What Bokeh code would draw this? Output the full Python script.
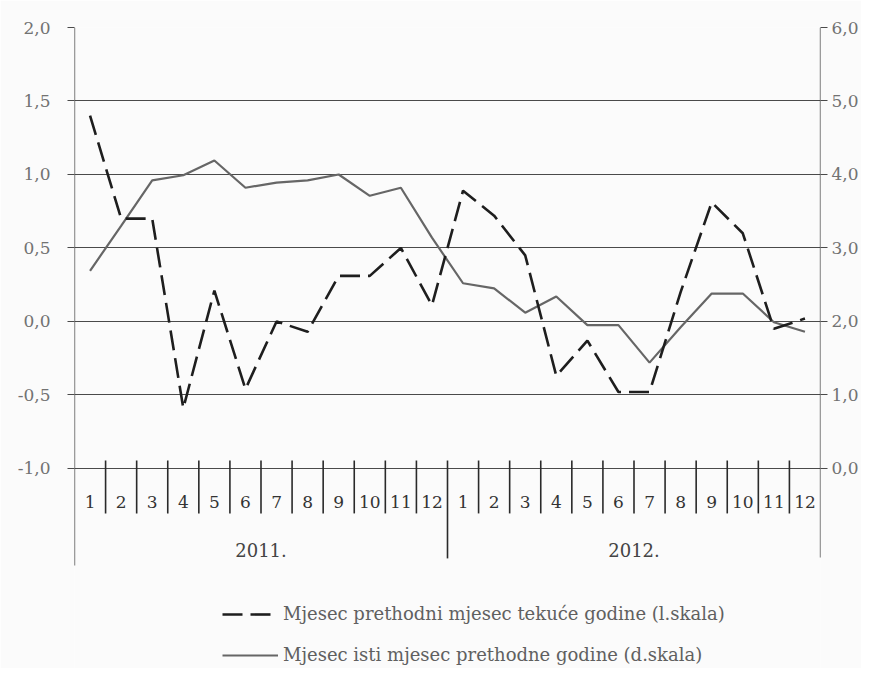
from bokeh.plotting import figure
from bokeh.models import (Range1d, LinearAxis, FixedTicker, CustomJSTickFormatter,
                          Legend, LegendItem)
from bokeh.embed import file_html
from bokeh.resources import INLINE
from bokeh.core.properties import value

# ---------------- data ----------------
month_labels = [str(m) for m in range(1, 13)] * 2
year_labels = ["2011.", "2012."]
# Mjesec / prethodni mjesec tekuće godine (left scale)
mom = [1.40, 0.70, 0.70, -0.59, 0.21, -0.46, 0.00, -0.07, 0.31, 0.31, 0.50, 0.11,
       0.89, 0.72, 0.45, -0.37, -0.13, -0.48, -0.48, 0.20, 0.81, 0.60, -0.05, 0.02]
# Mjesec / isti mjesec prethodne godine (right scale)
yoy = [2.69, 3.30, 3.92, 3.99, 4.19, 3.82, 3.89, 3.92, 4.00, 3.71, 3.82, 3.14,
       2.52, 2.45, 2.12, 2.34, 1.95, 1.95, 1.44, 1.92, 2.38, 2.38, 1.99, 1.86]
left_ticks = [-1.0, -0.5, 0.0, 0.5, 1.0, 1.5, 2.0]
right_ticks = [0.0, 1.0, 2.0, 3.0, 4.0, 5.0, 6.0]
legend_labels = ["Mjesec prethodni mjesec tekuće godine (l.skala)",
                 "Mjesec isti mjesec prethodne godine (d.skala)"]

n = len(mom)
xs = [i + 0.5 for i in range(n)]

LMIN, LMAX = left_ticks[0], left_ticks[-1]
RMIN, RMAX = right_ticks[0], right_ticks[-1]
EXT = 1.361                      # frame extends below the -1,0 line (left units)
ratio = (RMAX - RMIN) / (LMAX - LMIN)

SERIF = "DejaVu Serif"
BG = "#fbfbfb"

p = figure(width=861, height=668, output_backend="svg", toolbar_location=None,
           x_range=Range1d(0, n), y_range=Range1d(LMIN - EXT, LMAX),
           x_axis_location=None, y_axis_location=None,
           min_border_left=74, min_border_right=40, min_border_top=27, min_border_bottom=0,
           outline_line_color=None, background_fill_color=BG, border_fill_color=BG)
p.extra_y_ranges = {"r": Range1d(RMIN - EXT * ratio, RMAX)}

p.xgrid.visible = False
p.ygrid.ticker = FixedTicker(ticks=left_ticks)
p.ygrid.grid_line_color = "#4a4a4a"
p.ygrid.grid_line_width = 1.2

fmt = CustomJSTickFormatter(code="return tick.toFixed(1).replace('.', ',')")

axis_style = dict(axis_line_color=None, major_tick_in=0, major_tick_out=7,
                  major_tick_line_color="#4a4a4a", major_tick_line_width=1.2,
                  minor_tick_line_color=None,
                  major_label_text_font=SERIF, major_label_text_font_size="17px",
                  major_label_text_color="#727272")
la = LinearAxis(ticker=FixedTicker(ticks=left_ticks), formatter=fmt,
                major_label_standoff=17, **axis_style)
p.add_layout(la, "left")
ra = LinearAxis(y_range_name="r", ticker=FixedTicker(ticks=right_ticks), formatter=fmt,
                major_label_standoff=4, **axis_style)
p.add_layout(ra, "right")

# vertical frame lines extending into the category area
p.segment(x0=[0, n], y0=[LMAX, LMAX], x1=[0, n], y1=[LMIN - 0.66, LMIN - 0.605],
          line_color="#3a3a3a", line_width=1.3)
# month separators
sep_x = [i for i in range(1, n) if i != 12]
p.segment(x0=sep_x, y0=[LMIN + 0.054] * len(sep_x), x1=sep_x, y1=[LMIN - 0.306] * len(sep_x),
          line_color="#2a2a2a", line_width=1.6)
# year separator
p.segment(x0=[12], y0=[LMIN + 0.054], x1=[12], y1=[LMIN - 0.612],
          line_color="#2a2a2a", line_width=1.6)

# category labels
p.text(x=xs, y=[LMIN - 0.231] * n, text=month_labels, text_align="center",
       text_baseline="middle", text_font=value(SERIF), text_font_size="17px",
       text_color="#333333")
p.text(x=[6, 18], y=[LMIN - 0.558] * 2, text=year_labels, text_align="center",
       text_baseline="middle", text_font=value(SERIF), text_font_size="18px",
       text_color="#444444")

# series
r_sol = p.line(xs, yoy, y_range_name="r", line_color="#666666", line_width=2.2)
r_dash = p.line(xs, mom, line_color="#1e1e1e", line_width=2.6, line_dash="20 8")

legend = Legend(items=[LegendItem(label=legend_labels[0], renderers=[r_dash]),
                       LegendItem(label=legend_labels[1], renderers=[r_sol])],
                location=(148, 3), orientation="vertical",
                glyph_width=56, glyph_height=18, label_height=18, spacing=20,
                padding=0, margin=0, label_standoff=5,
                label_text_font=SERIF, label_text_font_size="18px",
                label_text_color="#606060",
                border_line_color=None, background_fill_alpha=0)
p.add_layout(legend, "center")

open("out.html", "w").write(file_html(p, INLINE))
